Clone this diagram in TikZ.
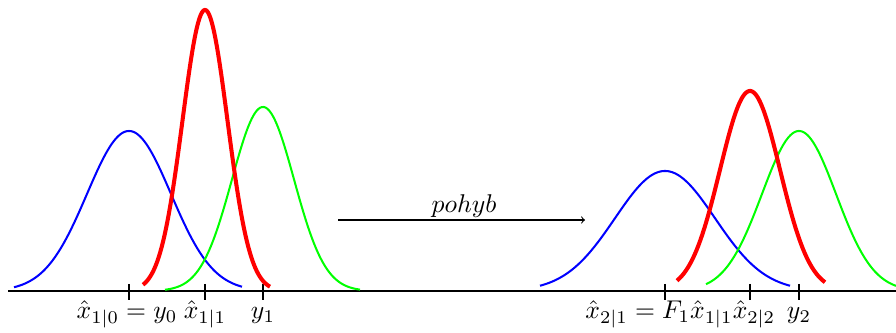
\documentclass[tikz,border=0pt]{standalone}
\begin{document}
\begin{tikzpicture}[x=0.02cm,y=-0.02cm,
  thin curve/.style={line width=1.15pt,smooth},
  thick curve/.style={line width=2.3pt,smooth},
  lbl/.style={anchor=base,inner sep=0pt,scale=1.46},
  tick/.style={line width=0.75pt}]
\useasboundingbox (0,0) rectangle (896,333);
% axis
\coordinate (ax1) at (8,291);
\coordinate (ax2) at (896,291);
\draw[line width=0.75pt] (ax1) -- (ax2);
% ticks
\foreach \n/\t in {t1/129,t2/205,t3/263,t4/665,t5/750,t6/799}{
  \coordinate (\n a) at (\t,284);
  \coordinate (\n b) at (\t,300);
  \draw[tick] (\n a) -- (\n b);
}
% left gaussians
\draw[blue,thin curve] plot[domain=14:242,samples=120] (\x,{291-160*exp(-((\x-129)^2)/(2*42^2))});
\draw[green,thin curve] plot[domain=165:360,samples=120] (\x,{291-184*exp(-((\x-263)^2)/(2*31^2))});
\draw[red,thick curve] plot[domain=143:270,samples=120] (\x,{291-281*exp(-((\x-205)^2)/(2*22.5^2))});
% right gaussians
\draw[blue,thin curve] plot[domain=540:790,samples=120] (\x,{291-120*exp(-((\x-665)^2)/(2*50^2))});
\draw[green,thin curve] plot[domain=706:896,samples=120] (\x,{291-160*exp(-((\x-799)^2)/(2*37^2))});
\draw[red,thick curve] plot[domain=677:825,samples=120] (\x,{291-200*exp(-((\x-750)^2)/(2*30^2))});
% arrow
\coordinate (a1) at (338,220);
\coordinate (a2) at (585,220);
\draw[->,line width=0.6pt] (a1) -- (a2);
\node[lbl] (pl) at (464,213) {$pohyb$};
% labels
\node[lbl] (l1) at (127,319) {$\hat{x}_{1|0}=y_0$};
\node[lbl] (l2) at (205,319) {$\hat{x}_{1|1}$};
\node[lbl] (l3) at (263,319) {$y_1$};
\node[lbl] (l4) at (659,319) {$\hat{x}_{2|1}=F_1\hat{x}_{1|1}$};
\node[lbl] (l5) at (754,319) {$\hat{x}_{2|2}$};
\node[lbl] (l6) at (799,319) {$y_2$};
\end{tikzpicture}
\end{document}
